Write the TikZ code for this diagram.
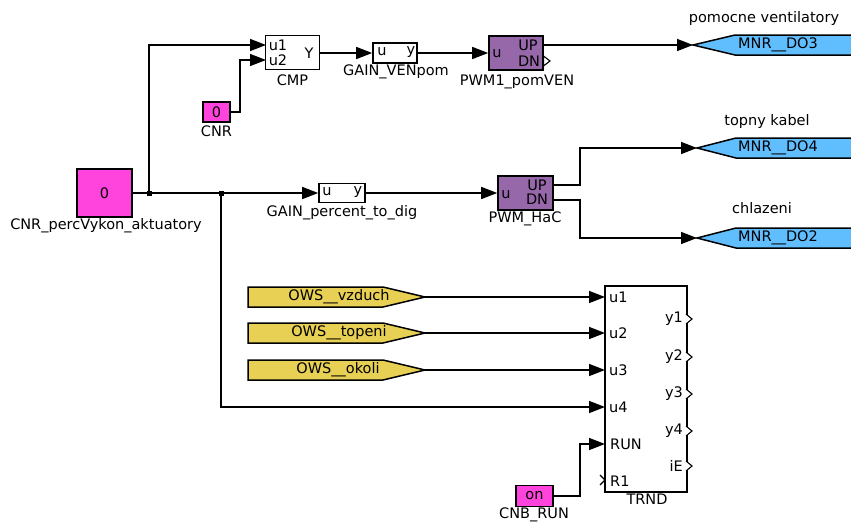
\documentclass[tikz,border=0pt]{standalone}
\usepackage{fontspec}
\setmainfont{DejaVu Sans}
\usetikzlibrary{arrows.meta}
\definecolor{mag}{RGB}{255,68,221}
\definecolor{pur}{RGB}{150,104,170}
\definecolor{tblue}{RGB}{96,190,255}
\definecolor{tyel}{RGB}{232,208,84}
\begin{document}
\begin{tikzpicture}[x=1pt,y=-1pt,
  font=\fontsize{14.5}{17}\selectfont,
  blk/.style={draw, line width=1.6pt, inner sep=0pt, anchor=center},
  wire/.style={line width=1.5pt},
  arr/.style={wire, -{Triangle[length=16pt,width=12pt]}},
  lbl/.style={inner sep=0pt, anchor=center},
  inl/.style={inner sep=0pt, anchor=west},
  inr/.style={inner sep=0pt, anchor=east},
  tagb/.style={draw, line width=1.5pt, fill=tblue},
  tagy/.style={draw, line width=1.5pt, fill=tyel},
  opent/.style={line width=1.1pt, fill=white},
  jdot/.style={fill, minimum size=5pt, inner sep=0pt, rectangle}
]
\useasboundingbox (0,0) rectangle (851,525);
\clip (0,0) rectangle (851,525);

% ---------- blocks ----------
\node[blk, fill=mag, minimum width=55pt, minimum height=48pt] (cnrp) at (104.5,193) {0};
\node[lbl] (cnrpl) at (106,226) {CNR\_percVykon\_aktuatory};

\node[blk, fill=mag, minimum width=27pt, minimum height=20pt] (cnr) at (216.5,112) {0};
\node[lbl] (cnrl) at (216.5,131) {CNR};

\node[blk, fill=white, minimum width=54pt, minimum height=34pt] (cmp) at (292.5,52.5) {};
\node[lbl] (cmpl) at (292.5,80) {CMP};
\node[lbl] (cmpa) at (278,45) {u1};
\node[lbl] (cmpb) at (278,60) {u2};
\node[lbl] (cmpc) at (309,53) {Y};

\node[blk, fill=white, minimum width=44pt, minimum height=20pt] (gvp) at (395,53) {};
\node[lbl] (gvpl) at (396,72) {GAIN\_VENpom};
\node[lbl] (gvpu) at (382,52) {u};
\node[lbl] (gvpy) at (411,52) {y};

\node[blk, fill=pur, minimum width=54pt, minimum height=34pt] (pwm1) at (516,53) {};
\node[lbl] (pwm1l) at (517,82) {PWM1\_pomVEN};
\node[lbl] (pwm1u) at (497,54) {u};
\node[lbl] (pwm1a) at (528,45) {UP};
\node[lbl] (pwm1b) at (529,61) {DN};
\draw[opent] (543.5,56) -- (550,61) -- (543.5,66) -- cycle;

\node[blk, fill=white, minimum width=46pt, minimum height=19pt] (gpd) at (342,193) {};
\node[lbl] (gpdl) at (342,213) {GAIN\_percent\_to\_dig};
\node[lbl] (gpdu) at (327,192) {u};
\node[lbl] (gpdy) at (358,192) {y};

\node[blk, fill=pur, minimum width=55pt, minimum height=34pt] (pwmh) at (525.5,193) {};
\node[lbl] (pwmhl) at (525,219) {PWM\_HaC};
\node[lbl] (pwmhu) at (506,195) {u};
\node[lbl] (pwmha) at (537,185) {UP};
\node[lbl] (pwmhb) at (537,199) {DN};

\node[blk, fill=white, minimum width=82pt, minimum height=206pt] (trnd) at (646,389) {};
\node[lbl] (trndl) at (647,499) {TRND};
\node[inl] (ti1) at (609,297) {u1};
\node[inl] (ti2) at (609,333) {u2};
\node[inl] (ti3) at (609,370) {u3};
\node[inl] (ti4) at (609,407) {u4};
\node[inl] (ti5) at (610,444) {RUN};
\node[inl] (ti6) at (610,481) {R1};
\node[inr] (to1) at (683,319) {y1};
\node[inr] (to2) at (683,357) {y2};
\node[inr] (to3) at (683,394) {y3};
\node[inr] (to4) at (683,431) {y4};
\node[inr] (to5) at (683,466) {iE};
\foreach \yy in {319,357,394,431,466}{
  \draw[opent] (686,\yy-5) -- (692,\yy) -- (686,\yy+5);
}
\draw[line width=1.1pt] (600,475) -- (605,480) -- (600,485);

\node[blk, fill=mag, minimum width=37pt, minimum height=21pt] (cnb) at (534.5,496) {on};
\node[lbl] (cnbl) at (534,515) {CNB\_RUN};

% ---------- tags ----------
\draw[tagb] (693,45) -- (735,35) -- (860,35) -- (860,55) -- (735,55) -- cycle;
\coordinate (do3) at (693,45);
\node[lbl] (do3t) at (778,45) {MNR\_\_DO3};
\node[lbl] (do3l) at (764,18) {pomocne ventilatory};

\draw[tagb] (697,148) -- (736,138) -- (860,138) -- (860,158) -- (736,158) -- cycle;
\coordinate (do4) at (697,148);
\node[lbl] (do4t) at (778,148) {MNR\_\_DO4};
\node[lbl] (do4l) at (767,121) {topny kabel};

\draw[tagb] (697,238) -- (736,228) -- (860,228) -- (860,248) -- (736,248) -- cycle;
\coordinate (do2) at (697,238);
\node[lbl] (do2t) at (778,238) {MNR\_\_DO2};
\node[lbl] (do2l) at (762,208) {chlazeni};

\draw[tagy] (248,287) -- (383,287) -- (425,297) -- (383,307) -- (248,307) -- cycle;
\coordinate (ows1) at (425,297);
\node[lbl] (ows1t) at (339,297) {OWS\_\_vzduch};
\draw[tagy] (248,323) -- (383,323) -- (425,333) -- (383,343) -- (248,343) -- cycle;
\coordinate (ows2) at (425,333);
\node[lbl] (ows2t) at (339,333) {OWS\_\_topeni};
\draw[tagy] (248,360) -- (383,360) -- (425,370) -- (383,380) -- (248,380) -- cycle;
\coordinate (ows3) at (425,370);
\node[lbl] (ows3t) at (338,370) {OWS\_\_okoli};

% ---------- ports ----------
\coordinate (cmpu1) at (266,45);
\coordinate (cmpu2) at (266,60);
\coordinate (cmpy) at (319.5,53);
\coordinate (pwm1up) at (543,45);
\coordinate (pwmhup) at (553,185);
\coordinate (pwmhdn) at (553,200);
\coordinate (tu1) at (605,297);
\coordinate (tu2) at (605,333);
\coordinate (tu3) at (605,370);
\coordinate (tu4) at (605,407);
\coordinate (trun) at (605,444);

% ---------- junctions ----------
\node[jdot] (j1) at (149,193) {};
\node[jdot] (j2) at (221,193) {};

% ---------- wires ----------
\draw[wire] (cnrp.east) -- (j1.center) -- (j2.center);
\draw[arr] (j2.center) -- (gpd.west);
\draw[arr] (j1.center) |- (cmpu1);
\draw[arr] (cnr.east) -- ++(9,0) |- (cmpu2);
\draw[arr] (cmpy) -- (gvp.west);
\draw[arr] (gvp.east) -- (pwm1.west);
\draw[arr] (pwm1up) -- (do3);
\draw[arr] (gpd.east) -- (pwmh.west);
\draw[arr] (pwmhup) -- ++(27,0) |- (do4);
\draw[arr] (pwmhdn) -- ++(27,0) |- (do2);
\draw[arr] (j2.center) |- (tu4);
\draw[arr] (ows1) -- (tu1);
\draw[arr] (ows2) -- (tu2);
\draw[arr] (ows3) -- (tu3);
\draw[arr] (cnb.east) -- ++(26,0) |- (trun);
\end{tikzpicture}
\end{document}
